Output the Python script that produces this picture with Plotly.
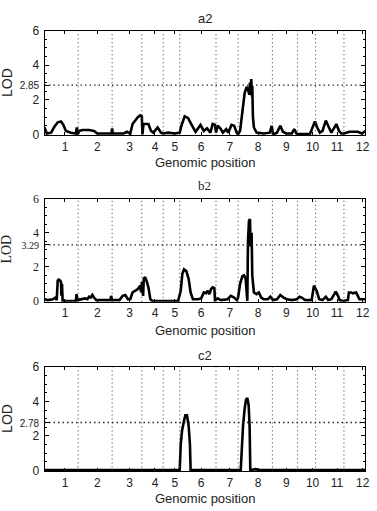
import plotly.graph_objects as go

# ---------------- data ----------------
# genomic position (arbitrary cM scale) and LOD values for each panel
a2_pos = [0, 7, 20, 30, 40, 50, 57, 65, 80, 95, 98, 101, 105, 115, 135, 150, 160, 195, 203, 205, 207,
          240, 250, 260, 267, 275, 283, 290, 295, 297, 300, 315, 323, 330, 343, 353, 360, 375, 395,
          410, 415, 425, 435, 445, 458, 473, 483, 493, 503, 510, 517, 520, 525, 533, 541, 551, 557,
          567, 575, 583, 587, 593, 600, 607, 613, 617, 621, 623, 624, 625, 626, 627, 629, 630, 632,
          635, 643, 665, 683, 689, 693, 705, 715, 723, 733, 750, 757, 765, 805, 820, 827, 835, 843,
          853, 860, 870, 885, 893, 900, 908, 925, 950, 963, 973]
a2_lod = [0.4, 0.05, 0.1, 0.45, 0.7, 0.75, 0.55, 0.2, 0.1, 0.05, 0.4, 0.0, 0.2, 0.25, 0.25, 0.2, 0.05, 0.05, 0.05, 0.35, 0.05,
          0.05, 0.15, 0.05, 0.6, 0.8, 1.0, 1.1, 1.05, 0.0, 0.6, 0.6, 0.2, 0.1, 0.4, 0.1, 0.05, 0.1, 0.05,
          0.1, 0.5, 1.05, 0.95, 0.6, 0.15, 0.55, 0.2, 0.35, 0.1, 0.6, 0.55, 0.1, 0.5, 0.35, 0.1, 0.3, 0.1,
          0.55, 0.5, 0.1, 0.0, 0.2, 1.4, 2.4, 2.75, 2.6, 2.3, 3.0, 2.3, 3.1, 2.4, 3.2, 2.2, 2.8, 1.0,
          0.4, 0.1, 0.05, 0.1, 0.5, 0.0, 0.1, 0.5, 0.15, 0.05, 0.05, 0.3, 0.02, 0.02, 0.75, 0.4, 0.1, 0.2,
          0.8, 0.5, 0.1, 0.6, 0.2, 0.05, 0.05, 0.15, 0.15, 0.05, 0.2]

b2_pos = [0, 10, 25, 33, 37, 40, 43, 47, 50, 51, 53, 55, 95, 97, 100, 110, 123, 130, 135, 140, 145, 150,
          157, 200, 202, 205, 227, 237, 245, 253, 260, 267, 275, 283, 290, 293, 295, 299, 301, 305, 309,
          315, 321, 327, 405, 413, 418, 423, 430, 437, 443, 450, 465, 475, 483, 490, 495, 500, 505, 510,
          515, 517, 525, 535, 555, 565, 575, 583, 587, 593, 600, 605, 610, 614, 615, 617, 620, 623, 625,
          628, 630, 635, 643, 650, 657, 665, 677, 685, 693, 705, 715, 725, 735, 750, 765, 773, 780, 790,
          810, 817, 825, 833, 843, 853, 860, 870, 877, 883, 890, 895, 905, 920, 923, 930, 935, 945, 950,
          955, 965, 973]
b2_lod = [0.1, 0.05, 0.1, 0.2, 0.05, 1.2, 1.25, 1.2, 1.1, 0.3, 1.0, 0.0, 0.0, 0.4, 0.05, 0.1, 0.15, 0.1, 0.25, 0.2, 0.35, 0.2,
          0.05, 0.05, 0.3, 0.05, 0.05, 0.3, 0.35, 0.1, 0.1, 0.5, 0.6, 0.7, 0.9, 0.5, 1.1, 0.3, 1.3, 1.4, 1.2,
          0.8, 0.1, 0.0, 0.0, 0.6, 1.6, 1.85, 1.75, 1.3, 0.5, 0.1, 0.1, 0.15, 0.5, 0.45, 0.6, 0.4, 0.7, 0.8,
          0.75, 0.05, 0.15, 0.05, 0.1, 0.3, 0.2, 0.05, 0.2, 1.0, 1.45, 1.5, 1.3, 0.1, 0.0, 3.5, 4.7, 4.8, 3.2,
          4.0, 1.5, 0.5, 0.4, 0.5, 0.2, 0.1, 0.1, 0.25, 0.05, 0.1, 0.35, 0.2, 0.1, 0.05, 0.1, 0.25, 0.2, 0.05,
          0.05, 0.9, 0.6, 0.1, 0.05, 0.25, 0.05, 0.1, 0.35, 0.55, 0.3, 0.05, 0.0, 0.05, 0.5, 0.5, 0.45, 0.5, 0.3,
          0.1, 0.1, 0.1]

c2_pos = [0, 200, 410, 413, 417, 422, 427, 432, 437, 441, 443, 595, 598, 602, 607, 611, 615, 619, 622,
          624, 640, 650, 973]
c2_lod = [0.03, 0.03, 0.03, 1.5, 2.3, 2.8, 3.2, 3.2, 2.6, 1.5, 0.03, 0.03, 1.5, 2.6, 3.6, 4.1, 4.2, 3.8, 2.5,
          0.03, 0.08, 0.03, 0.03]

panel_names = ["a2", "b2", "c2"]
thresholds = [2.85, 3.29, 2.78]
threshold_labels = ["2.85", "3.29", "2.78"]

chrom_boundaries = [102, 205, 295, 360, 410, 520, 587, 691, 767, 822, 908]
chrom_tick_pos = [62, 160, 258, 335, 395, 475, 562, 648, 733, 813, 887, 965]
chrom_tick_labels = ["1", "2", "3", "4", "5", "6", "7", "8", "9", "10", "11", "12"]
x_range = [0, 973]
y_range = [-0.05, 6]
y_major = [0, 2, 4, 6]

# ---------------- layout ----------------
W, H = 377, 511
x_dom = [45 / W, 369.3 / W]
y_doms = [[1 - 131.6 / H, 1 - 24.3 / H],
          [1 - 302.5 / H, 1 - 196.7 / H],
          [1 - 476.5 / H, 1 - 369.3 / H]]
title_y = [1 - 12 / H, 1 - 183 / H, 1 - 357.7 / H]
xlabel_y = [1 - 160 / H, 1 - 331.5 / H, 1 - 504 / H]
ylabel_y = [1 - 77 / H, 1 - 248 / H, 1 - 421.7 / H]

SANS = "Liberation Sans, Arial, sans-serif"
SERIF = "Liberation Serif, Times New Roman, serif"
panel_fonts = [SANS, SERIF, SANS]

fig = go.Figure()
series = [(a2_pos, a2_lod), (b2_pos, b2_lod), (c2_pos, c2_lod)]
shapes = []
annotations = []
for i, (xs, ys) in enumerate(series):
    ax = "" if i == 0 else str(i + 1)
    fig.add_trace(go.Scatter(x=xs, y=ys, mode="lines", xaxis="x" + ax, yaxis="y" + ax,
                             line=dict(color="black", width=2.6), showlegend=False,
                             hoverinfo="skip"))
    thr = thresholds[i]
    tv = sorted(y_major + [thr])
    tt = []
    for v in tv:
        if v == thr:
            tt.append("<span style='font-size:10px'>%s</span>" % threshold_labels[i])
        else:
            tt.append(str(v))
    fig.layout["xaxis" + ax] = dict(
        domain=x_dom, range=x_range, anchor="y" + ax, showgrid=False, zeroline=False,
        showline=True, linecolor="black", linewidth=1, mirror="ticks",
        ticks="inside", ticklen=3, tickcolor="black",
        tickmode="array", tickvals=chrom_tick_pos, ticktext=chrom_tick_labels,
        tickfont=dict(family=SANS, size=12, color="#222"), ticklabelstandoff=0)
    fig.layout["yaxis" + ax] = dict(
        domain=y_doms[i], range=y_range, anchor="x" + ax, showgrid=False, zeroline=False,
        showline=True, linecolor="black", linewidth=1, mirror="ticks",
        ticks="inside", ticklen=4, tickcolor="black",
        tickmode="array", tickvals=tv, ticktext=tt,
        minor=dict(dtick=0.5, tick0=0, ticks="inside", ticklen=2, tickcolor="black"),
        tickfont=dict(family=panel_fonts[i] if i == 1 else SANS, size=12, color="#222"),
        ticklabelstandoff=2)
    for b in chrom_boundaries:
        shapes.append(dict(type="line", xref="x" + ax, yref="y" + ax + " domain",
                           x0=b, x1=b, y0=0, y1=1,
                           line=dict(color="#333", width=1, dash="1px,3px")))
    shapes.append(dict(type="line", xref="x" + ax + " domain", yref="y" + ax,
                       x0=0, x1=1, y0=thr, y1=thr,
                       line=dict(color="#222", width=1.3, dash="1.5px,3px")))
    annotations.append(dict(text=panel_names[i], xref="paper", yref="paper",
                            x=207 / W, y=title_y[i], showarrow=False,
                            xanchor="center", yanchor="middle",
                            font=dict(family=panel_fonts[i], size=13, color="#222")))
    annotations.append(dict(text="Genomic position", xref="paper", yref="paper",
                            x=207 / W, y=xlabel_y[i], showarrow=False,
                            xanchor="center", yanchor="middle",
                            font=dict(family=SANS, size=13, color="#222")))
    annotations.append(dict(text="LOD", xref="paper", yref="paper",
                            x=7 / W, y=ylabel_y[i], showarrow=False, textangle=-90,
                            xanchor="center", yanchor="middle",
                            font=dict(family=panel_fonts[i], size=14, color="#222")))

fig.update_layout(width=W, height=H, margin=dict(l=0, r=0, t=0, b=0),
                  paper_bgcolor="white", plot_bgcolor="white",
                  shapes=shapes, annotations=annotations)

fig.write_html("out.html")
